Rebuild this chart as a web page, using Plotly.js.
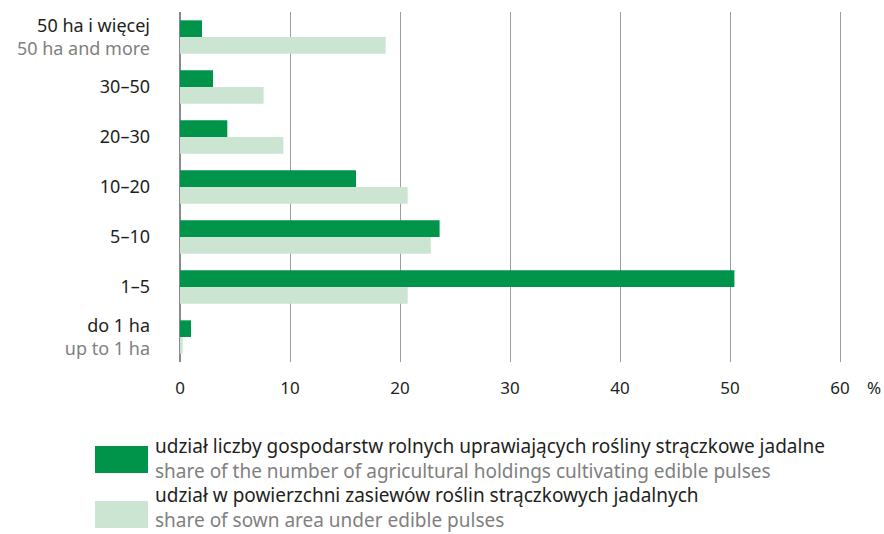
<!DOCTYPE html>
<html>
<head>
<meta charset="utf-8">
<script src="https://cdn.plot.ly/plotly-3.0.1.min.js"></script>
<style>html,body{margin:0;padding:0;background:#fff;}#chart{width:884px;height:534px;}</style>
</head>
<body>
<div id="chart"></div>
<script>
const categories = ["50 ha i więcej", "30–50", "20–30", "10–20", "5–10", "1–5", "do 1 ha"];
const categoriesEn = ["50 ha and more", "", "", "", "", "", "up to 1 ha"];
const holdingsShare = [2.0, 3.0, 4.3, 16.0, 23.6, 50.4, 1.0];
const areaShare = [18.7, 7.6, 9.4, 20.7, 22.8, 20.7, 0.25];
const seriesPl = ["udział liczby gospodarstw rolnych uprawiających rośliny strączkowe jadalne", "udział w powierzchni zasiewów roślin strączkowych jadalnych"];
const seriesEn = ["share of the number of agricultural holdings cultivating edible pulses", "share of sown area under edible pulses"];
const xTicks = [0, 10, 20, 30, 40, 50, 60];

const DARK = "#00934a", LIGHT = "#cce5d2", TXT = "#231f20", GREY = "#808080";
const FONT = "Noto Sans, sans-serif";

const tickText = categories.map((c, i) => categoriesEn[i]
  ? c + "<br><span style='color:" + GREY + "'>" + categoriesEn[i] + "</span>"
  : c);

const data = [
  {type: "bar", orientation: "h", y: categories, x: holdingsShare, marker: {color: DARK}, name: seriesPl[0], hoverinfo: "x"},
  {type: "bar", orientation: "h", y: categories, x: areaShare, marker: {color: LIGHT}, name: seriesPl[1], hoverinfo: "x"}
];

const XMAX = 61;
const PX0 = 180, PW = Math.round(11.008 * XMAX), PT = 12, PH = 350;
const px = v => (v - PX0) / PW;
const py = v => (PT + PH - v) / PH;

const rects = [[446, 473], [501, 528]];
const textCenters = [458, 507];
const colors = [DARK, LIGHT];
const shapes = [];
const annotations = [];
for (let i = 0; i < 2; i++) {
  shapes.push({type: "rect", xref: "paper", yref: "paper", layer: "above",
    x0: px(95), x1: px(148), y0: py(rects[i][0]), y1: py(rects[i][1]),
    fillcolor: colors[i], line: {width: 0}});
  annotations.push({xref: "paper", yref: "paper", x: px(153), y: py(textCenters[i]),
    xanchor: "left", yanchor: "middle", showarrow: false, align: "left",
    text: seriesPl[i] + "<br><span style='color:" + GREY + "'>" + seriesEn[i] + "</span>",
    font: {family: FONT, size: 19, color: TXT}});
}
annotations.push({xref: "paper", yref: "paper", x: px(865), y: py(387),
  xanchor: "left", yanchor: "middle", showarrow: false, text: "%", font: {family: FONT, size: 17, color: TXT}});

const layout = {
  width: 884, height: 534,
  margin: {l: PX0, r: 884 - PX0 - PW, t: PT, b: 534 - PT - PH, pad: 0},
  paper_bgcolor: "#fff", plot_bgcolor: "#fff",
  barmode: "group", bargap: 0.333, bargroupgap: 0,
  showlegend: false,
  font: {family: FONT, size: 17, color: TXT},
  xaxis: {range: [0, XMAX], tickvals: xTicks, ticktext: xTicks.map(String), showgrid: true,
    gridcolor: "#9d9d9d", gridwidth: 1, zeroline: true, zerolinecolor: "#8a8a8a", zerolinewidth: 1.5,
    showline: false, ticks: "", ticklabelstandoff: 14, tickfont: {family: FONT, size: 17, color: TXT}, fixedrange: true},
  yaxis: {categoryorder: "array", categoryarray: categories, autorange: "reversed",
    tickvals: categories, ticktext: tickText, showgrid: false, zeroline: false, showline: false,
    ticks: "", ticklabelstandoff: 29, tickfont: {family: FONT, size: 18, color: TXT}, fixedrange: true},
  shapes: shapes,
  annotations: annotations
};

Plotly.newPlot("chart", data, layout, {displayModeBar: false, staticPlot: true});
</script>
</body>
</html>
